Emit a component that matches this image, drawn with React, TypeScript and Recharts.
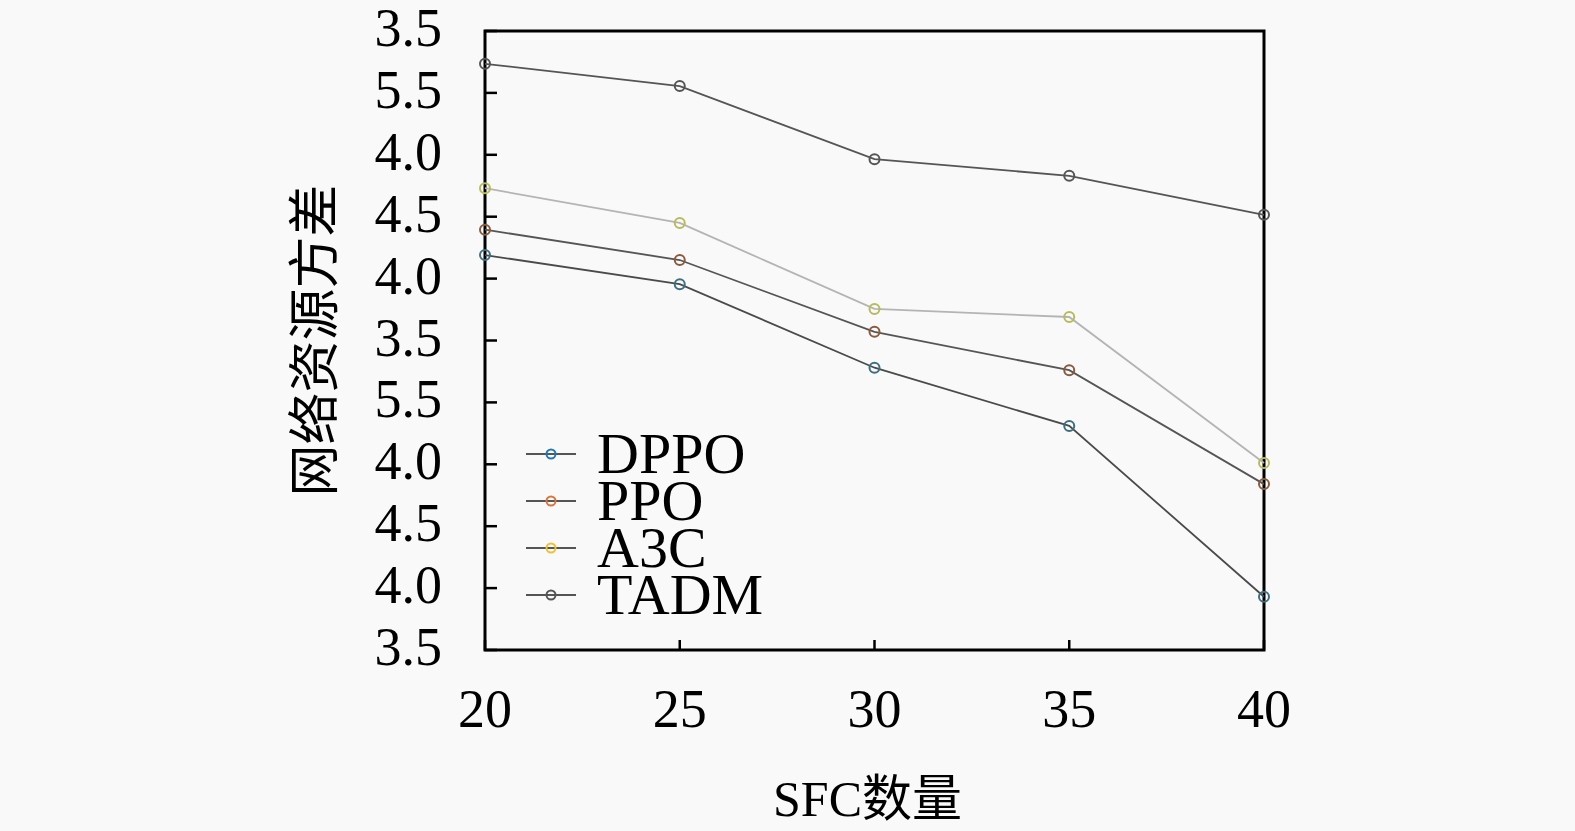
import { Legend, Line, LineChart, ReferenceArea, XAxis, YAxis } from 'recharts';

const sfcCounts = [20, 25, 30, 35, 40];
const dppo = [6.38, 5.91, 4.56, 3.62, 0.86];
const ppo = [6.79, 6.3, 5.14, 4.52, 2.68];
const a3c = [7.46, 6.9, 5.51, 5.38, 3.02];
const tadm = [9.47, 9.11, 7.93, 7.66, 7.03];

// tick labels as printed on the original, bottom to top
const yTickLabels = ['3.5', '4.0', '4.5', '4.0', '5.5', '3.5', '4.0', '4.5', '4.0', '5.5', '3.5'];
const yTicks = yTickLabels.map((_, i) => i);

const data = sfcCounts.map((n, i) => ({ n, DPPO: dppo[i], PPO: ppo[i], A3C: a3c[i], TADM: tadm[i] }));

const FONT = '"Liberation Serif", "DejaVu Serif", "Noto Sans CJK SC", serif';
const CJK = '"Noto Sans CJK SC", serif';

const SERIES = [
  { key: 'DPPO', line: '#4a4a4a', dot: '#3d6f80', legendDot: '#1f77b4' },
  { key: 'PPO', line: '#555555', dot: '#8a5a3c', legendDot: '#d9753a' },
  { key: 'A3C', line: '#b4b4b4', dot: '#b8bb5a', legendDot: '#f0c030' },
  { key: 'TADM', line: '#555555', dot: '#555555', legendDot: '#555555' },
];

function YTick(props: any) {
  const { x, y, payload } = props;
  return (
    <g>
      <line x1={x} x2={x + 12} y1={y} y2={y} stroke="#000" strokeWidth={2.5} />
      <text x={x - 43} y={y + 15} textAnchor="end" fontFamily={FONT} fontSize={54} fill="#000">
        {yTickLabels[payload.value]}
      </text>
    </g>
  );
}

function XTick(props: any) {
  const { x, y, payload } = props;
  return (
    <g>
      <line x1={x} x2={x} y1={y} y2={y - 10} stroke="#000" strokeWidth={2.5} />
      <text x={x} y={y + 77} textAnchor="middle" fontFamily={FONT} fontSize={54} fill="#000">
        {payload.value}
      </text>
    </g>
  );
}

function LegendBox() {
  return (
    <div style={{ fontFamily: FONT, fontSize: 58, color: '#000' }}>
      {SERIES.map((s) => (
        <div key={s.key} style={{ display: 'flex', alignItems: 'center', height: 47 }}>
          <svg width={52} height={20} style={{ marginRight: 20 }}>
            <line x1={1} x2={51} y1={10} y2={10} stroke="#555" strokeWidth={1.8} />
            <circle cx={26} cy={10} r={4.5} fill="none" stroke={s.legendDot} strokeWidth={2} />
          </svg>
          <span style={{ lineHeight: '47px' }}>{s.key}</span>
        </div>
      ))}
    </div>
  );
}

export default function App() {
  return (
    <div style={{ position: 'absolute', left: 0, top: 0, width: 1575, height: 831, background: '#f9f9f9' }}>
      <LineChart width={1575} height={831} data={data} margin={{ top: 31, right: 311, bottom: 0, left: 0 }}>
        <XAxis
          dataKey="n"
          type="number"
          domain={[20, 40]}
          ticks={sfcCounts}
          height={181}
          axisLine={false}
          tickLine={false}
          tickSize={0}
          tickMargin={0}
          tick={<XTick />}
          label={{
            content: ({ viewBox }: any) => (
              <text x={viewBox.x + viewBox.width / 2 - 7} y={816} textAnchor="middle" fontFamily={FONT} fontSize={50} fill="#000">
                SFC<tspan fontFamily={CJK}>数量</tspan>
              </text>
            ),
          }}
        />
        <YAxis
          type="number"
          domain={[0, 10]}
          ticks={yTicks}
          width={485}
          axisLine={false}
          tickLine={false}
          tickSize={0}
          tickMargin={0}
          tick={<YTick />}
          label={{
            content: ({ viewBox }: any) => (
              <text
                x={310}
                y={viewBox.y + viewBox.height / 2}
                transform={`rotate(-90 310 ${viewBox.y + viewBox.height / 2})`}
                textAnchor="middle"
                dominantBaseline="central"
                fontFamily={CJK}
                fontSize={52}
                fill="#000"
              >
                网络资源方差
              </text>
            ),
          }}
        />
        <ReferenceArea x1={20} x2={40} y1={0} y2={10} fill="none" stroke="#000" strokeWidth={3} />
        {SERIES.map((s) => (
          <Line
            key={s.key}
            dataKey={s.key}
            stroke={s.line}
            strokeWidth={1.8}
            dot={{ r: 5, fill: 'none', stroke: s.dot, strokeWidth: 2 }}
            activeDot={false}
            isAnimationActive={false}
          />
        ))}
        <Legend
          layout="vertical"
          align="center"
          verticalAlign="middle"
          content={<LegendBox />}
          wrapperStyle={{ position: 'absolute', left: 525, top: 430, width: 'auto' }}
        />
      </LineChart>
    </div>
  );
}
